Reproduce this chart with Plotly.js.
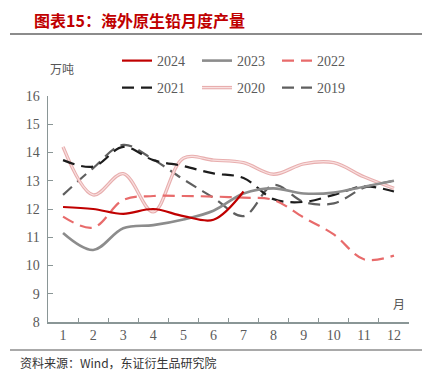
<!DOCTYPE html>
<html>
<head>
<meta charset="utf-8">
<script src="https://cdn.plot.ly/plotly-3.0.1.min.js"></script>
<style>
html,body{margin:0;padding:0;background:#fff;}
#chart{width:433px;height:383px;}
</style>
</head>
<body>
<div id="chart"></div>
<script>
var months = ['1','2','3','4','5','6','7','8','9','10','11','12'];
var yTicks = [8,9,10,11,12,13,14,15,16];

var s2024 = [12.07, 12.0, 11.83, 12.0, 11.75, 11.62, 12.62];
var s2023 = [11.15, 10.55, 11.32, 11.43, 11.63, 11.94, 12.55, 12.73, 12.55, 12.58, 12.79, 13.0];
var s2022 = [11.73, 11.34, 12.32, 12.46, 12.46, 12.44, 12.4, 12.32, 11.7, 11.1, 10.22, 10.35];
var s2021 = [13.73, 13.5, 14.2, 13.73, 13.52, 13.26, 13.1, 12.35, 12.25, 12.5, 12.8, 12.62];
var s2020 = [14.2, 12.5, 13.25, 11.9, 13.8, 13.73, 13.64, 13.23, 13.6, 13.64, 13.14, 12.73];
var s2019 = [12.5, 13.45, 14.27, 13.75, 13.05, 12.4, 11.75, 12.85, 12.25, 12.2, 12.75, 13.0];

function tr(name, y, color, width, dash, legend) {
  return {
    x: months.slice(0, y.length), y: y, name: name, type: 'scatter', mode: 'lines',
    line: {color: color, width: width, dash: dash || 'solid', shape: 'spline', smoothing: 1},
    legend: legend, showlegend: true, hoverinfo: 'skip'
  };
}

var data = [
  tr('2019', s2019, '#5f5f5f', 2.2, '12px,7px', 'legend6'),
  tr('2020', s2020, '#e8aeae', 3.4, 'solid', 'legend5'),
  tr(' ', s2020, '#f8e0e0', 1.2, 'solid', 'legend7'),
  tr('2021', s2021, '#1c1c1c', 2.2, '12px,7px', 'legend4'),
  tr('2022', s2022, '#e86b6b', 2.2, '12px,7px', 'legend3'),
  tr('2023', s2023, '#8c8c8c', 2.6, 'solid', 'legend2'),
  tr('2024', s2024, '#c00000', 2.2, 'solid', 'legend')
];

var axisColor = '#8a9696';
var tickFont = {family: 'Liberation Serif, serif', size: 14, color: '#5a5a5a'};
var legFont = {family: 'Liberation Serif, serif', size: 14, color: '#5a5a5a'};

function leg(px, py) {
  return {orientation: 'h', x: (px - 48) / 361, xanchor: 'left', y: (322 - py) / 226, yanchor: 'middle',
          font: legFont, bgcolor: 'rgba(0,0,0,0)', borderwidth: 0};
}

var layout = {
  width: 433, height: 383,
  margin: {l: 48, r: 24, t: 96, b: 61},
  paper_bgcolor: '#fff', plot_bgcolor: '#fff',
  showlegend: true,
  xaxis: {
    type: 'category', categoryorder: 'array', categoryarray: months,
    range: [-0.5, 11.5], tickson: 'boundaries',
    showline: true, linecolor: axisColor, linewidth: 1.5,
    ticks: 'inside', ticklen: 4, tickcolor: axisColor, tickwidth: 1,
    showgrid: false, zeroline: false, tickfont: tickFont, fixedrange: true
  },
  yaxis: {
    range: [8, 16], tickvals: yTicks, ticktext: yTicks.map(String),
    showline: true, linecolor: axisColor, linewidth: 1.5,
    ticks: 'inside', ticklen: 5, tickcolor: axisColor, tickwidth: 1,
    showgrid: false, zeroline: false, tickfont: tickFont, ticklabelstandoff: 4, fixedrange: true
  },
  legend: leg(117, 61),
  legend2: leg(197, 61),
  legend3: leg(277, 61),
  legend4: leg(117, 88),
  legend5: leg(197, 88),
  legend6: leg(277, 88),
  legend7: leg(197, 88),
  shapes: [
    {type: 'line', xref: 'paper', yref: 'paper', x0: (10-48)/361, x1: (422-48)/361, y0: (322-34)/226, y1: (322-34)/226,
     line: {color: '#8c8c8c', width: 2}},
    {type: 'line', xref: 'paper', yref: 'paper', x0: (10-48)/361, x1: (422-48)/361, y0: (322-350)/226, y1: (322-350)/226,
     line: {color: '#555', width: 1}}
  ],
  annotations: [
    {text: '<b>图表15：海外原生铅月度产量</b>', xref: 'paper', yref: 'paper', x: (32-48)/361, y: (322-20)/226,
     xanchor: 'left', yanchor: 'middle', showarrow: false,
     font: {family: 'Noto Sans CJK SC, sans-serif', size: 16, color: '#c00000'}},
    {text: '万吨', xref: 'paper', yref: 'paper', x: (62-48)/361, y: (322-68)/226, xanchor: 'center', yanchor: 'middle',
     showarrow: false, font: {family: 'Noto Sans CJK SC, sans-serif', size: 12, color: '#555'}},
    {text: '月', xref: 'paper', yref: 'paper', x: (399-48)/361, y: (322-303)/226, xanchor: 'center', yanchor: 'middle',
     showarrow: false, font: {family: 'Noto Sans CJK SC, sans-serif', size: 12, color: '#555'}},
    {text: '资料来源：Wind，东证衍生品研究院', xref: 'paper', yref: 'paper', x: (18-48)/361, y: (322-362)/226,
     xanchor: 'left', yanchor: 'middle', showarrow: false,
     font: {family: 'Noto Sans CJK SC, sans-serif', size: 12, color: '#333'}}
  ]
};

Plotly.newPlot('chart', data, layout, {displayModeBar: false, staticPlot: true});
</script>
</body>
</html>
